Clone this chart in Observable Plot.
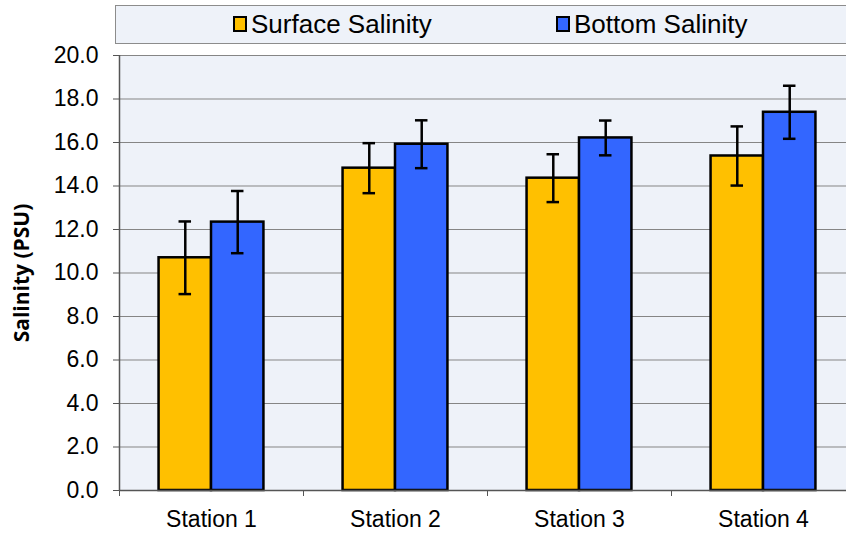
<!DOCTYPE html>
<html>
<head>
<meta charset="utf-8">
<script src="https://cdn.jsdelivr.net/npm/d3@7"></script>
<script src="https://cdn.jsdelivr.net/npm/@observablehq/plot@0.6"></script>
<style>
  html, body { margin: 0; padding: 0; background: #fff; overflow: hidden; width: 846px; height: 533px; position: relative; }
  #legend {
    position: absolute; left: 115px; top: 5px; width: 760px; height: 37px; z-index: 2;
    border: 1px solid #8c8c8c; background: #EEF2F9;
    font-family: "Liberation Sans", Arial, sans-serif; font-size: 26px; color: #000;
  }
  .item { position: absolute; top: 0; height: 37px; line-height: 37px; white-space: nowrap; }
  .sw { display: inline-block; width: 10px; height: 12px; border: 2px solid #000; vertical-align: middle; margin-right: 4px; position: relative; top: -2px; }
  #chart svg { max-width: none !important; display: block; }
  g[aria-label="y-axis label"] text, g[aria-label="y-axis label"] { font-family: "Open Sans", "Noto Sans", sans-serif !important; font-weight: bold !important; font-size: 21px !important; }
</style>
</head>
<body>
<div id="legend"></div>
<div id="chart"></div>
<script>
// ---- data ----
const stations = ["Station 1", "Station 2", "Station 3", "Station 4"];
const seriesNames = ["Surface Salinity", "Bottom Salinity"];
const surface = [10.7, 14.82, 14.36, 15.38];
const surfaceErr = [1.67, 1.15, 1.1, 1.36];
const bottom = [12.34, 15.92, 16.21, 17.39];
const bottomErr = [1.43, 1.1, 0.8, 1.22];
const yTicks = [0, 2, 4, 6, 8, 10, 12, 14, 16, 18, 20];

// ---- styles / layout ----
const colors = ["#FFC000", "#3366FF"];
const GAP = 0.215;          // fraction of a category left empty on each side
const CAP = 0.034;          // half-width of error-bar caps (category fraction)

const legend = document.getElementById("legend");
const legendLeft = [117, 440];
seriesNames.forEach((s, k) => {
  const d = document.createElement("div");
  d.className = "item";
  d.style.left = legendLeft[k] + "px";
  d.innerHTML = `<span class="sw" style="background:${colors[k]}"></span>${s}`;
  legend.appendChild(d);
});

const rows = [];
stations.forEach((st, i) => {
  [surface, bottom].forEach((arr, k) => {
    const err = k === 0 ? surfaceErr[i] : bottomErr[i];
    const x1 = k === 0 ? i + GAP : i + 0.5;
    const x2 = k === 0 ? i + 0.5 : i + 1 - GAP;
    rows.push({station: st, series: seriesNames[k], value: arr[i], lo: arr[i] - err, hi: arr[i] + err,
               x1, x2, xc: (x1 + x2) / 2});
  });
});

const chart = Plot.plot({
  width: 856,
  height: 533,
  marginLeft: 119,
  marginRight: 1,
  marginTop: 55,
  marginBottom: 43,
  style: {fontFamily: "Liberation Sans, Arial, sans-serif", fontSize: "23px", background: "transparent", maxWidth: "none"},
  x: {domain: [0, stations.length]},
  y: {domain: [0, 20]},
  color: {domain: seriesNames, range: colors},
  marks: [
    Plot.frame({fill: "#EEF2F9", stroke: null}),
    Plot.gridY(yTicks, {stroke: "#858585", strokeOpacity: 1, strokeWidth: 1}),
    Plot.rect(rows, {x1: "x1", x2: "x2", y1: 0, y2: "value", fill: "series", stroke: "#000", strokeWidth: 2.5}),
    Plot.ruleX(rows, {x: "xc", y1: "lo", y2: "hi", stroke: "#000", strokeWidth: 2.5}),
    Plot.ruleY(rows, {y: "hi", x1: d => d.xc - CAP, x2: d => d.xc + CAP, stroke: "#000", strokeWidth: 2.5}),
    Plot.ruleY(rows, {y: "lo", x1: d => d.xc - CAP, x2: d => d.xc + CAP, stroke: "#000", strokeWidth: 2.5}),
    Plot.ruleY([0], {stroke: "#555", strokeWidth: 1.5}),
    Plot.ruleX([0], {stroke: "#555", strokeWidth: 1.5}),
    Plot.axisY({ticks: yTicks, tickFormat: d => d.toFixed(1), tickSize: 6, tickPadding: 15, stroke: "#555",
                label: "Salinity (PSU)", labelAnchor: "center", labelArrow: "none", labelOffset: 105}),
    Plot.axisX({ticks: d3.range(stations.length + 1), tickFormat: () => "", tickSize: 6, stroke: "#555", label: null}),
    Plot.axisX({ticks: stations.map((s, i) => i + 0.5), tickFormat: v => stations[Math.floor(v)], tickSize: 0, tickPadding: 20, label: null})
  ]
});
document.getElementById("chart").appendChild(chart);
</script>
</body>
</html>
